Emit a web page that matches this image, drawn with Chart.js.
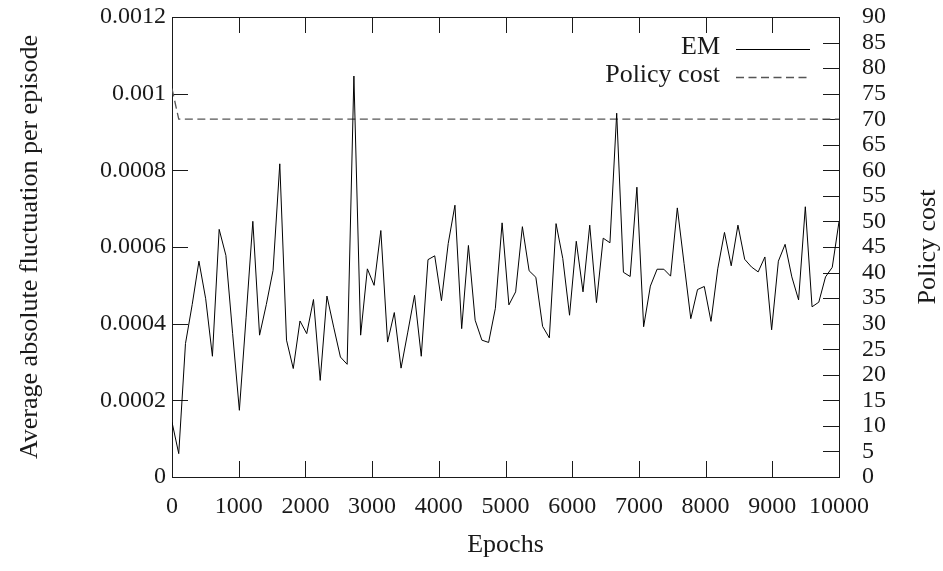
<!DOCTYPE html>
<html>
<head>
<meta charset="utf-8">
<script src="https://cdn.jsdelivr.net/npm/chart.js@4.4.1/dist/chart.umd.min.js"></script>
<style>
  html, body { margin: 0; padding: 0; background: #fff; }
  #wrap { width: 943px; height: 571px; }
</style>
</head>
<body>
<div id="wrap"><canvas id="chart"></canvas></div>
<script>
// EM: average absolute fluctuation per episode, 100 samples spread over 0..10000 epochs
const emFluct = [
  0.000143, 0.000061, 0.000348, 0.000450, 0.000563, 0.000465, 0.000315, 0.000646, 0.000578, 0.000374,
  0.000174, 0.000417, 0.000667, 0.000370, 0.000450, 0.000539, 0.000817, 0.000357, 0.000283, 0.000407,
  0.000374, 0.000463, 0.000252, 0.000472, 0.000391, 0.000313, 0.000294, 0.001046, 0.000370, 0.000543,
  0.000500, 0.000643, 0.000352, 0.000429, 0.000284, 0.000378, 0.000474, 0.000315, 0.000567, 0.000577,
  0.000460, 0.000609, 0.000709, 0.000387, 0.000604, 0.000409, 0.000357, 0.000351, 0.000440, 0.000663,
  0.000449, 0.000483, 0.000653, 0.000538, 0.000521, 0.000393, 0.000363, 0.000661, 0.000570, 0.000422,
  0.000615, 0.000483, 0.000657, 0.000455, 0.000623, 0.000611, 0.000949, 0.000534, 0.000523, 0.000756,
  0.000392, 0.000498, 0.000542, 0.000542, 0.000524, 0.000702, 0.000557, 0.000413, 0.000489, 0.000497,
  0.000406, 0.000543, 0.000638, 0.000551, 0.000657, 0.000568, 0.000548, 0.000535, 0.000574, 0.000384,
  0.000563, 0.000607, 0.000522, 0.000462, 0.000705, 0.000444, 0.000456, 0.000522, 0.000547, 0.000666
];
// sample positions: evenly spaced over the epoch range
const emEpochs = emFluct.map((_, i) => Math.round(i * 10000 / (emFluct.length - 1)));

// policy cost (right axis)
const costEpochs = [0, 101, 10000];
const policyCost = [76, 70, 70];

const xTicks = [0, 1000, 2000, 3000, 4000, 5000, 6000, 7000, 8000, 9000, 10000];
const leftTicks = [0, 0.0002, 0.0004, 0.0006, 0.0008, 0.001, 0.0012];
const rightTicks = [0, 5, 10, 15, 20, 25, 30, 35, 40, 45, 50, 55, 60, 65, 70, 75, 80, 85, 90];

const FAMILY = "'Liberation Serif', 'DejaVu Serif', serif";
const FONT = { family: FAMILY, size: 24 };      // tick labels
const TFONT = { family: FAMILY, size: 26 };     // axis titles and key
const INK = '#1a1a1a';
const TICK_LEN = 16;

// gnuplot style frame: box border plus inward ticks on all four sides
const gnuplotFrame = {
  id: 'gnuplotFrame',
  beforeDatasetsDraw(chart) {
    const { ctx, chartArea: a, scales } = chart;
    ctx.save();
    ctx.strokeStyle = INK;
    ctx.lineWidth = 1;
    ctx.beginPath();
    xTicks.forEach(v => {
      const x = Math.round(scales.x.getPixelForValue(v)) + 0.5;
      ctx.moveTo(x, a.bottom); ctx.lineTo(x, a.bottom - TICK_LEN);
      ctx.moveTo(x, a.top); ctx.lineTo(x, a.top + TICK_LEN);
    });
    leftTicks.forEach(v => {
      const y = Math.round(scales.y.getPixelForValue(v)) + 0.5;
      ctx.moveTo(a.left, y); ctx.lineTo(a.left + TICK_LEN, y);
    });
    rightTicks.forEach(v => {
      const y = Math.round(scales.y2.getPixelForValue(v)) + 0.5;
      ctx.moveTo(a.right, y); ctx.lineTo(a.right - TICK_LEN, y);
    });
    ctx.stroke();
    ctx.strokeRect(Math.round(a.left) + 0.5, Math.round(a.top) + 0.5,
      Math.round(a.right - a.left), Math.round(a.bottom - a.top));
    ctx.restore();
  },
  afterDraw(chart) {
    const { ctx, chartArea: a } = chart;
    ctx.save();
    ctx.fillStyle = INK;
    ctx.font = `${TFONT.size}px ${TFONT.family}`;

    // right axis title, reading bottom to top like the left one
    ctx.translate(928, (a.top + a.bottom) / 2);
    ctx.rotate(-Math.PI / 2);
    ctx.textAlign = 'center';
    ctx.textBaseline = 'middle';
    ctx.fillText('Policy cost', 0, 0);
    ctx.setTransform(1, 0, 0, 1, 0, 0);

    // key, top right: label then line sample
    ctx.textAlign = 'right';
    chart.data.datasets.forEach((ds, i) => {
      const y = 49 + i * 28;
      ctx.fillText(ds.label, 720, y - 2);
      ctx.beginPath();
      ctx.strokeStyle = ds.borderColor;
      ctx.lineWidth = ds.borderWidth;
      ctx.setLineDash(ds.borderDash || []);
      ctx.moveTo(736, y + 0.5);
      ctx.lineTo(810, y + 0.5);
      ctx.stroke();
    });
    ctx.restore();
  }
};

// keep the plot box at a fixed place: no extra room for label overhang
const noOverhang = s => { s.paddingTop = 0; s.paddingBottom = 0; s.paddingLeft = 0; s.paddingRight = 0; };

new Chart(document.getElementById('chart'), {
  type: 'line',
  data: {
    datasets: [
      {
        label: 'EM',
        data: emEpochs.map((e, i) => ({ x: e, y: emFluct[i] })),
        yAxisID: 'y',
        borderColor: '#000',
        borderWidth: 1,
        pointRadius: 0,
        tension: 0
      },
      {
        label: 'Policy cost',
        data: costEpochs.map((e, i) => ({ x: e, y: policyCost[i] })),
        yAxisID: 'y2',
        borderColor: '#555',
        borderWidth: 1.3,
        borderDash: [8, 4.5],
        pointRadius: 0,
        tension: 0
      }
    ]
  },
  options: {
    responsive: true,
    maintainAspectRatio: false,
    animation: false,
    layout: { padding: { top: 17, left: 0, right: 0, bottom: 0 } },
    plugins: { legend: { display: false }, tooltip: { enabled: false } },
    scales: {
      x: {
        type: 'linear',
        min: 0,
        max: 10000,
        afterFit: s => { noOverhang(s); s.height = 94; },
        afterBuildTicks: s => { s.ticks = xTicks.map(v => ({ value: v })); },
        grid: { display: false, drawTicks: false },
        border: { display: false },
        ticks: { font: FONT, color: INK, padding: 15, maxRotation: 0, autoSkip: false, callback: v => String(v) },
        title: { display: true, text: 'Epochs', font: TFONT, color: INK, padding: { top: 0, bottom: 10 } }
      },
      y: {
        position: 'left',
        min: 0,
        max: 0.0012,
        afterFit: s => { noOverhang(s); s.width = 172; },
        afterBuildTicks: s => { s.ticks = leftTicks.map(v => ({ value: v })); },
        grid: { display: false, drawTicks: false },
        border: { display: false },
        ticks: {
          font: FONT, color: INK, padding: 6,
          callback: v => String(parseFloat(Number(v).toFixed(4)))
        },
        title: {
          display: true, text: 'Average absolute fluctuation per episode',
          font: TFONT, color: INK, padding: { top: 15, bottom: 0 }
        }
      },
      y2: {
        position: 'right',
        min: 0,
        max: 90,
        afterFit: s => { noOverhang(s); s.width = 104; },
        afterBuildTicks: s => { s.ticks = rightTicks.map(v => ({ value: v })); },
        grid: { display: false, drawTicks: false },
        border: { display: false },
        ticks: { font: FONT, color: INK, padding: 23, autoSkip: false }
      }
    }
  },
  plugins: [gnuplotFrame]
});
</script>
</body>
</html>
